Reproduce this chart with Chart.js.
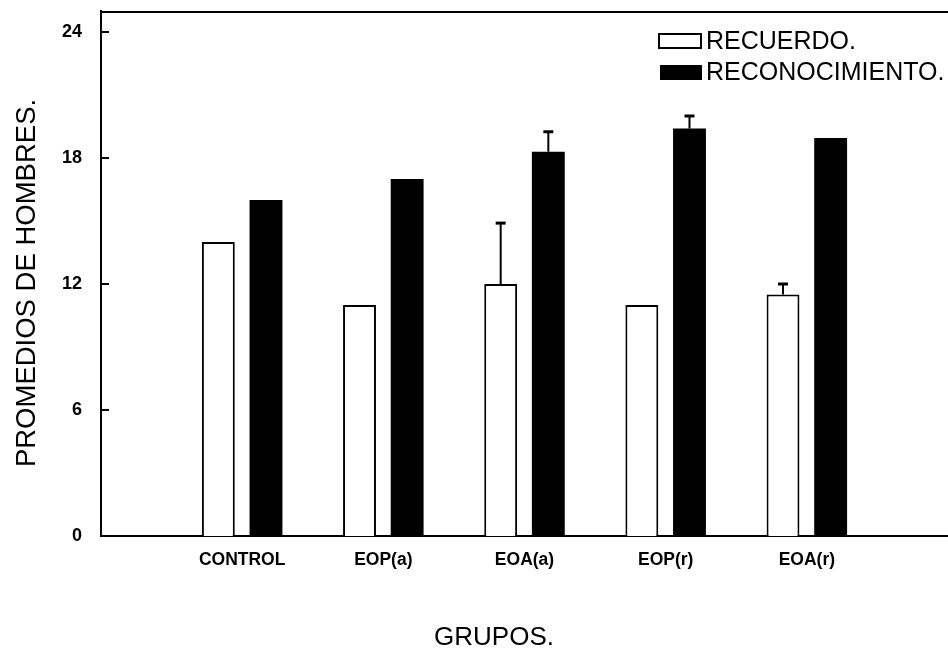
<!DOCTYPE html>
<html>
<head>
<meta charset="utf-8">
<script src="https://cdn.jsdelivr.net/npm/chart.js@4.4.0/dist/chart.umd.min.js"></script>
<style>
  html, body { margin: 0; padding: 0; background: #fff; }
  canvas { display: block; }
</style>
</head>
<body>
<canvas id="c" width="948" height="653"></canvas>
<script>
// Group means with their error terms
const groups = ['CONTROL', 'EOP(a)', 'EOA(a)', 'EOP(r)', 'EOA(r)'];
const recuerdo = [14, 11, 12, 11, 11.5];
const recuerdoErr = [0, 0, 2.9, 0, 0.5];
const reconocimiento = [16, 17, 18.3, 19.4, 18.95];
const reconocimientoErr = [0, 0, 0.95, 0.6, 0];
const yTicks = [0, 6, 12, 18, 24];
const seriesNames = ['RECUERDO.', 'RECONOCIMIENTO.'];
const xTitle = 'GRUPOS.';
const yTitle = 'PROMEDIOS DE HOMBRES.';

// Empty slot on each side keeps the groups inside the frame
const labels = ['', ...groups, ''];
const pad = arr => [null, ...arr, null];

const FONT = '"Liberation Sans", Arial, Helvetica, sans-serif';

const errorBars = {
  id: 'errorBars',
  afterDatasetsDraw(chart) {
    const ctx = chart.ctx;
    const y = chart.scales.y;
    chart.data.datasets.forEach((ds, di) => {
      const meta = chart.getDatasetMeta(di);
      (ds.errors || []).forEach((err, i) => {
        if (!err) return;
        const bar = meta.data[i];
        const v = ds.data[i];
        const top = y.getPixelForValue(v + err);
        ctx.save();
        ctx.strokeStyle = '#000';
        ctx.lineWidth = 2;
        ctx.beginPath();
        ctx.moveTo(bar.x, bar.y);
        ctx.lineTo(bar.x, top);
        ctx.stroke();
        ctx.lineWidth = 3;
        ctx.beginPath();
        ctx.moveTo(bar.x - 5, top);
        ctx.lineTo(bar.x + 5, top);
        ctx.stroke();
        ctx.restore();
      });
    });
  }
};

const frame = {
  id: 'frame',
  afterDraw(chart) {
    const ctx = chart.ctx;
    const a = chart.chartArea;
    const y = chart.scales.y;
    ctx.save();
    ctx.strokeStyle = '#000';
    ctx.fillStyle = '#000';

    // top rule of the frame
    ctx.lineWidth = 2;
    ctx.beginPath();
    ctx.moveTo(a.left - 1, a.top + 1);
    ctx.lineTo(a.right, a.top + 1);
    ctx.stroke();

    // inward tick marks on the value axis
    yTicks.forEach(v => {
      const py = y.getPixelForValue(v);
      ctx.beginPath();
      ctx.moveTo(a.left, py);
      ctx.lineTo(a.left + 8, py);
      ctx.stroke();
    });

    // legend
    const ds = chart.data.datasets;
    const rows = [41, 72];
    ds.forEach((d, i) => {
      const cy = rows[i];
      if (i === 0) {
        ctx.fillStyle = '#fff';
        ctx.fillRect(659, cy - 7, 42, 14);
        ctx.lineWidth = 2;
        ctx.strokeRect(659, cy - 7, 42, 14);
      } else {
        ctx.fillStyle = '#000';
        ctx.fillRect(660, cy - 7, 42, 15);
      }
      ctx.fillStyle = '#000';
      ctx.font = '25px ' + FONT;
      ctx.textAlign = 'left';
      ctx.textBaseline = 'middle';
      ctx.fillText(d.label, 706, cy + 1);
    });

    // axis titles
    ctx.font = '26px ' + FONT;
    ctx.textAlign = 'center';
    ctx.textBaseline = 'middle';
    ctx.fillText(xTitle, 494, 638);

    ctx.translate(27, 283);
    ctx.rotate(-Math.PI / 2);
    ctx.font = '27.5px ' + FONT;
    ctx.fillText(yTitle, 0, 0);
    ctx.restore();
  }
};

new Chart(document.getElementById('c'), {
  type: 'bar',
  data: {
    labels: labels,
    datasets: [
      {
        label: seriesNames[0],
        data: pad(recuerdo),
        errors: pad(recuerdoErr),
        backgroundColor: '#fff',
        borderColor: '#000',
        borderWidth: 2,
        borderSkipped: 'start'
      },
      {
        label: seriesNames[1],
        data: pad(reconocimiento),
        errors: pad(reconocimientoErr),
        backgroundColor: '#000',
        borderColor: '#000',
        borderWidth: 0
      }
    ]
  },
  options: {
    responsive: false,
    animation: false,
    devicePixelRatio: 1,
    layout: { padding: { top: 11, right: -4, left: 0, bottom: 0 } },
    datasets: {
      bar: { categoryPercentage: 0.675, barPercentage: 0.69 }
    },
    plugins: {
      legend: { display: false },
      tooltip: { enabled: false }
    },
    scales: {
      x: {
        offset: false,
        grid: { display: false, drawTicks: false },
        border: { display: true, color: '#000', width: 2 },
        ticks: {
          color: '#000',
          padding: 14,
          maxRotation: 0,
          autoSkip: false,
          font: { family: FONT, size: 17.5, weight: 'bold' }
        },
        afterFit(s) {
          s.height = 117;
          s.paddingLeft = 0; s.paddingRight = 0;
        }
      },
      y: {
        min: 0,
        max: 25,
        grid: { display: false, drawTicks: false },
        border: { display: true, color: '#000', width: 2 },
        afterBuildTicks(s) { s.ticks = yTicks.map(v => ({ value: v })); },
        ticks: {
          color: '#000',
          padding: 19,
          font: { family: FONT, size: 18, weight: 'bold' }
        },
        afterFit(s) {
          s.width = 101;
          s.paddingTop = 0; s.paddingBottom = 0;
        }
      }
    }
  },
  plugins: [errorBars, frame]
});
</script>
</body>
</html>
